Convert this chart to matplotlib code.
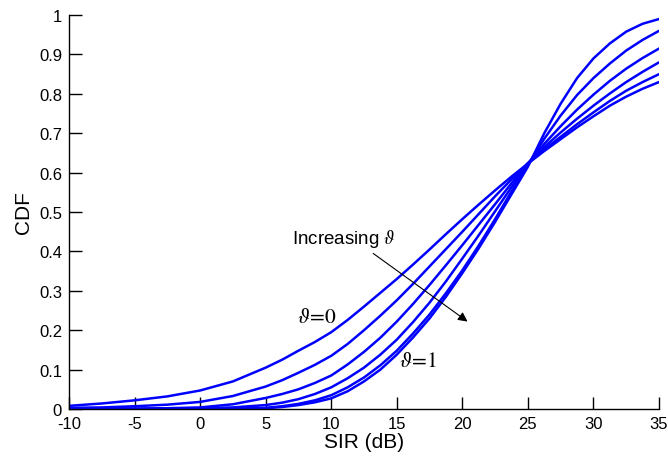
import matplotlib
matplotlib.use('Agg')
import matplotlib.pyplot as plt

plt.rcParams['font.family'] = ['Liberation Sans', 'DejaVu Sans']
plt.rcParams['mathtext.fontset'] = 'stix'
plt.rcParams['axes.unicode_minus'] = False

# SIR grid (dB) and CDF values, one list per curve
sir = [-10, -7.5, -5, -2.5, 0, 2.5, 5, 6.25, 7.5, 8.75, 10, 11.25, 12.5, 13.75, 15, 16.25, 17.5, 18.75,
       20, 21.25, 22.5, 23.75, 25, 26.25, 27.5, 28.75, 30, 31.25, 32.5, 33.75, 35]
cdf_0 = [0.008, 0.014, 0.022, 0.032, 0.047, 0.070, 0.105, 0.125, 0.148, 0.170, 0.195, 0.226, 0.260, 0.295, 0.330, 0.367,
         0.405, 0.444, 0.482, 0.519, 0.555, 0.590, 0.623, 0.655, 0.685, 0.715, 0.743, 0.770, 0.793, 0.813, 0.830]
cdf_1 = [0.003, 0.004, 0.007, 0.011, 0.018, 0.033, 0.057, 0.073, 0.092, 0.112, 0.135, 0.165, 0.200, 0.237, 0.276, 0.318,
         0.362, 0.406, 0.450, 0.495, 0.540, 0.583, 0.624, 0.659, 0.691, 0.723, 0.753, 0.782, 0.808, 0.830, 0.850]
cdf_2 = [0.001, 0.001, 0.001, 0.002, 0.004, 0.012, 0.028, 0.038, 0.050, 0.066, 0.085, 0.113, 0.145, 0.181, 0.222, 0.267,
         0.315, 0.365, 0.416, 0.468, 0.520, 0.573, 0.624, 0.665, 0.702, 0.737, 0.770, 0.801, 0.830, 0.856, 0.880]
cdf_3 = [0.000, 0.000, 0.000, 0.001, 0.002, 0.004, 0.010, 0.016, 0.025, 0.038, 0.055, 0.078, 0.105, 0.138, 0.176, 0.221,
         0.270, 0.324, 0.382, 0.441, 0.502, 0.563, 0.622, 0.673, 0.718, 0.760, 0.798, 0.833, 0.864, 0.891, 0.915]
cdf_4 = [0.000, 0.000, 0.000, 0.000, 0.001, 0.001, 0.003, 0.007, 0.013, 0.022, 0.035, 0.055, 0.080, 0.111, 0.148, 0.192,
         0.240, 0.294, 0.352, 0.415, 0.482, 0.552, 0.620, 0.686, 0.745, 0.797, 0.840, 0.877, 0.910, 0.937, 0.960]
cdf_5 = [0.000, 0.000, 0.000, 0.000, 0.000, 0.001, 0.002, 0.005, 0.010, 0.017, 0.027, 0.045, 0.070, 0.100, 0.138, 0.182,
         0.230, 0.285, 0.345, 0.408, 0.475, 0.545, 0.615, 0.700, 0.775, 0.840, 0.890, 0.928, 0.958, 0.978, 0.990]
curves = [cdf_0, cdf_1, cdf_2, cdf_3, cdf_4, cdf_5]

fig = plt.figure(figsize=(6.68, 4.6), dpi=100)
ax = fig.add_axes([0.1033, 0.1087, 0.8832, 0.8563])

for c in curves:
    ax.plot(sir, c, color='#0000ff', lw=1.8, solid_capstyle='round', solid_joinstyle='round')

ax.set_xlim(-10, 35)
ax.set_ylim(0, 1)
ax.set_xticks(range(-10, 36, 5))
ax.set_yticks([i / 10 for i in range(11)])
ax.set_yticklabels(['0', '0.1', '0.2', '0.3', '0.4', '0.5', '0.6', '0.7', '0.8', '0.9', '1'])
ax.tick_params(direction='in', length=9, width=1, labelsize=12, pad=5)
ax.spines['top'].set_visible(False)
ax.spines['right'].set_visible(False)
for s in ['left', 'bottom']:
    ax.spines[s].set_linewidth(1)

ax.set_xlabel('SIR (dB)', fontsize=15, labelpad=1)
ax.set_ylabel('CDF', fontsize=15, labelpad=4)

ax.annotate('', xy=(20.4, 0.222), xytext=(13.2, 0.395),
            arrowprops=dict(arrowstyle='-|>', color='black', lw=0.8,
                            mutation_scale=14, shrinkA=0, shrinkB=0))
ax.text(7.0, 0.435, r'Increasing $\vartheta$', fontsize=13.5, va='center', ha='left')
ax.text(7.4, 0.235, r'$\vartheta\!=\!0$', fontsize=15.5, va='center', ha='left')
ax.text(15.15, 0.122, r'$\vartheta\!=\!1$', fontsize=15.5, va='center', ha='left')

fig.savefig('out.png', dpi=100)
